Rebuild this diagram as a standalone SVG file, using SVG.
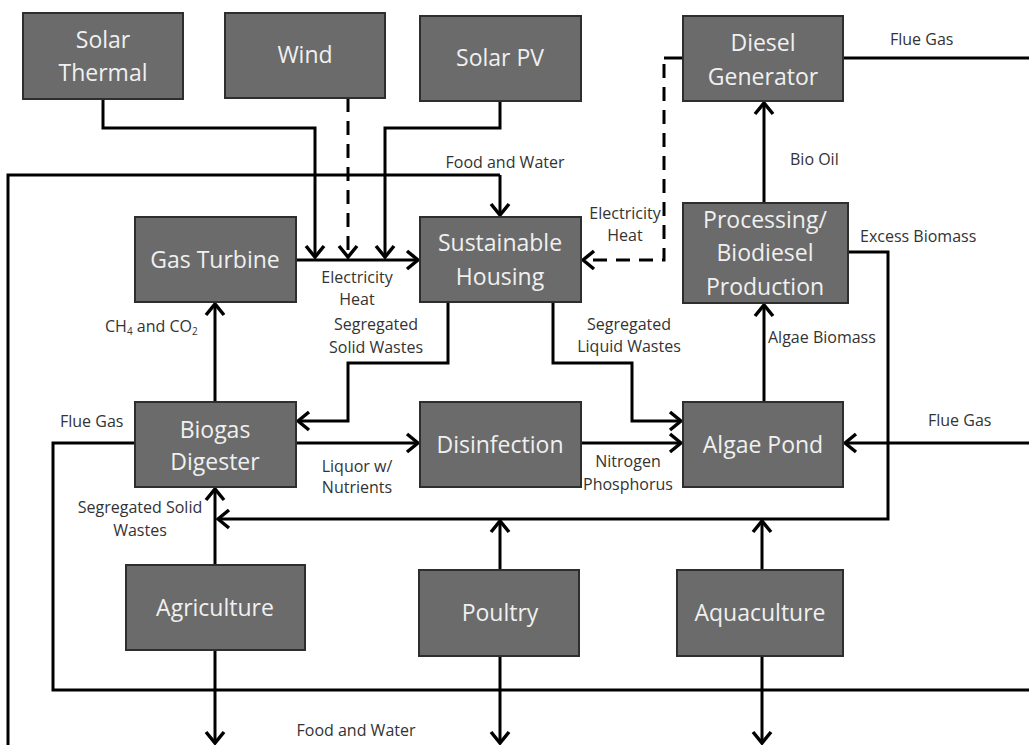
<svg xmlns="http://www.w3.org/2000/svg" width="1029" height="745" viewBox="0 0 1029 745">
<style>
.box{fill:#6b6b6b;stroke:#2e2e2e;stroke-width:2}
.bt{font-family:"Open Sans","Liberation Sans",sans-serif;font-size:23px;fill:#f0f0f0;text-anchor:middle}
.ln{fill:none;stroke:#000;stroke-width:3;stroke-linejoin:miter}
.ar{marker-end:url(#ah)}
.ds{stroke-dasharray:14,9}
.lb{font-family:"Open Sans","Liberation Sans",sans-serif;font-size:16px;fill:#333}
.m{text-anchor:middle}
</style>
<defs>
<marker id="ah" viewBox="-14 -12 16 24" markerWidth="16" markerHeight="24" refX="0" refY="0" orient="auto" markerUnits="userSpaceOnUse">
<path d="M-11,-9 L0,0 L-11,9" fill="none" stroke="#000" stroke-width="3.5"/>
</marker>
</defs>
<rect width="1029" height="745" fill="#fff"/>
<g id="connectors">
<polyline class="ln ar" points="103,99 103,128 315,128 315,257"/>
<polyline class="ln ar ds" points="348,98 348,257"/>
<polyline class="ln ar" points="500,101 500,128 385,128 385,257"/>
<polyline class="ln ar" points="296,260 418,260"/>
<polyline class="ln" points="8,745 8,175 500,175"/>
<polyline class="ln ar" points="500,175 500,215"/>
<polyline class="ln" points="683,58 664,58"/>
<polyline class="ln ar ds" points="664,64 664,260 583,260"/>
<polyline class="ln ar" points="448,302 448,363 348,363 348,421 298,421"/>
<polyline class="ln ar" points="553,302 553,363 632,363 632,421 681,421"/>
<polyline class="ln ar" points="296,443 418,443"/>
<polyline class="ln ar" points="581,443 681,443"/>
<polyline class="ln ar" points="215,402 215,304"/>
<polyline class="ln ar" points="764,402 764,305"/>
<polyline class="ln ar" points="764,203 764,103"/>
<polyline class="ln" points="843,58 1029,58"/>
<polyline class="ln ar" points="848,252 888,252 888,519 218,519"/>
<polyline class="ln ar" points="1029,443 845,443"/>
<polyline class="ln" points="135,443 53,443 53,690 1029,690"/>
<polyline class="ln ar" points="215,565 215,489"/>
<polyline class="ln ar" points="215,650 215,743"/>
<polyline class="ln ar" points="500,570 500,521"/>
<polyline class="ln ar" points="500,656 500,743"/>
<polyline class="ln ar" points="762,570 762,521"/>
<polyline class="ln ar" points="762,656 762,743"/>
</g>
<g id="labels">
<text class="lb m" x="505" y="168">Food and Water</text>
<text class="lb" x="790" y="165">Bio Oil</text>
<text class="lb" x="890" y="45">Flue Gas</text>
<text class="lb m" x="625" y="219">Electricity</text>
<text class="lb m" x="625" y="241">Heat</text>
<text class="lb m" x="357" y="283">Electricity</text>
<text class="lb m" x="357" y="305">Heat</text>
<text class="lb m" x="376" y="330">Segregated</text>
<text class="lb m" x="376" y="353">Solid Wastes</text>
<text class="lb m" x="629" y="330">Segregated</text>
<text class="lb m" x="629" y="352">Liquid Wastes</text>
<text class="lb" x="105" y="332">CH<tspan font-size="10" dy="3">4</tspan><tspan dy="-3"> and CO</tspan><tspan font-size="10" dy="3">2</tspan></text>
<text class="lb" x="768" y="343">Algae Biomass</text>
<text class="lb" x="860" y="242">Excess Biomass</text>
<text class="lb" x="60" y="427">Flue Gas</text>
<text class="lb" x="928" y="426">Flue Gas</text>
<text class="lb m" x="357" y="472">Liquor w/</text>
<text class="lb m" x="357" y="493">Nutrients</text>
<text class="lb m" x="628" y="467">Nitrogen</text>
<text class="lb m" x="628" y="490">Phosphorus</text>
<text class="lb m" x="140" y="513">Segregated Solid</text>
<text class="lb m" x="140" y="536">Wastes</text>
<text class="lb m" x="356" y="736">Food and Water</text>
</g>
<g id="solar-thermal"><rect class="box" x="23" y="13" width="160" height="86"/><text class="bt" x="103" y="48">Solar</text><text class="bt" x="103" y="81">Thermal</text></g>
<g id="wind"><rect class="box" x="225" y="13" width="160" height="85"/><text class="bt" x="305" y="63">Wind</text></g>
<g id="solar-pv"><rect class="box" x="420" y="16" width="161" height="85"/><text class="bt" x="500" y="66">Solar PV</text></g>
<g id="diesel-generator"><rect class="box" x="683" y="16" width="160" height="85"/><text class="bt" x="763" y="51">Diesel</text><text class="bt" x="763" y="85">Generator</text></g>
<g id="gas-turbine"><rect class="box" x="135" y="217" width="161" height="85"/><text class="bt" x="215" y="268">Gas Turbine</text></g>
<g id="sustainable-housing"><rect class="box" x="420" y="217" width="161" height="85"/><text class="bt" x="500" y="251">Sustainable</text><text class="bt" x="500" y="285">Housing</text></g>
<g id="processing"><rect class="box" x="683" y="203" width="165" height="100"/><text class="bt" x="765" y="228">Processing/</text><text class="bt" x="765" y="261">Biodiesel</text><text class="bt" x="765" y="295">Production</text></g>
<g id="biogas-digester"><rect class="box" x="135" y="402" width="161" height="85"/><text class="bt" x="215" y="438">Biogas</text><text class="bt" x="215" y="470">Digester</text></g>
<g id="disinfection"><rect class="box" x="420" y="402" width="161" height="85"/><text class="bt" x="500" y="453">Disinfection</text></g>
<g id="algae-pond"><rect class="box" x="683" y="402" width="160" height="85"/><text class="bt" x="763" y="453">Algae Pond</text></g>
<g id="agriculture"><rect class="box" x="126" y="565" width="179" height="85"/><text class="bt" x="215" y="616">Agriculture</text></g>
<g id="poultry"><rect class="box" x="419" y="570" width="160" height="86"/><text class="bt" x="500" y="621">Poultry</text></g>
<g id="aquaculture"><rect class="box" x="677" y="570" width="166" height="86"/><text class="bt" x="760" y="621">Aquaculture</text></g>
</svg>
